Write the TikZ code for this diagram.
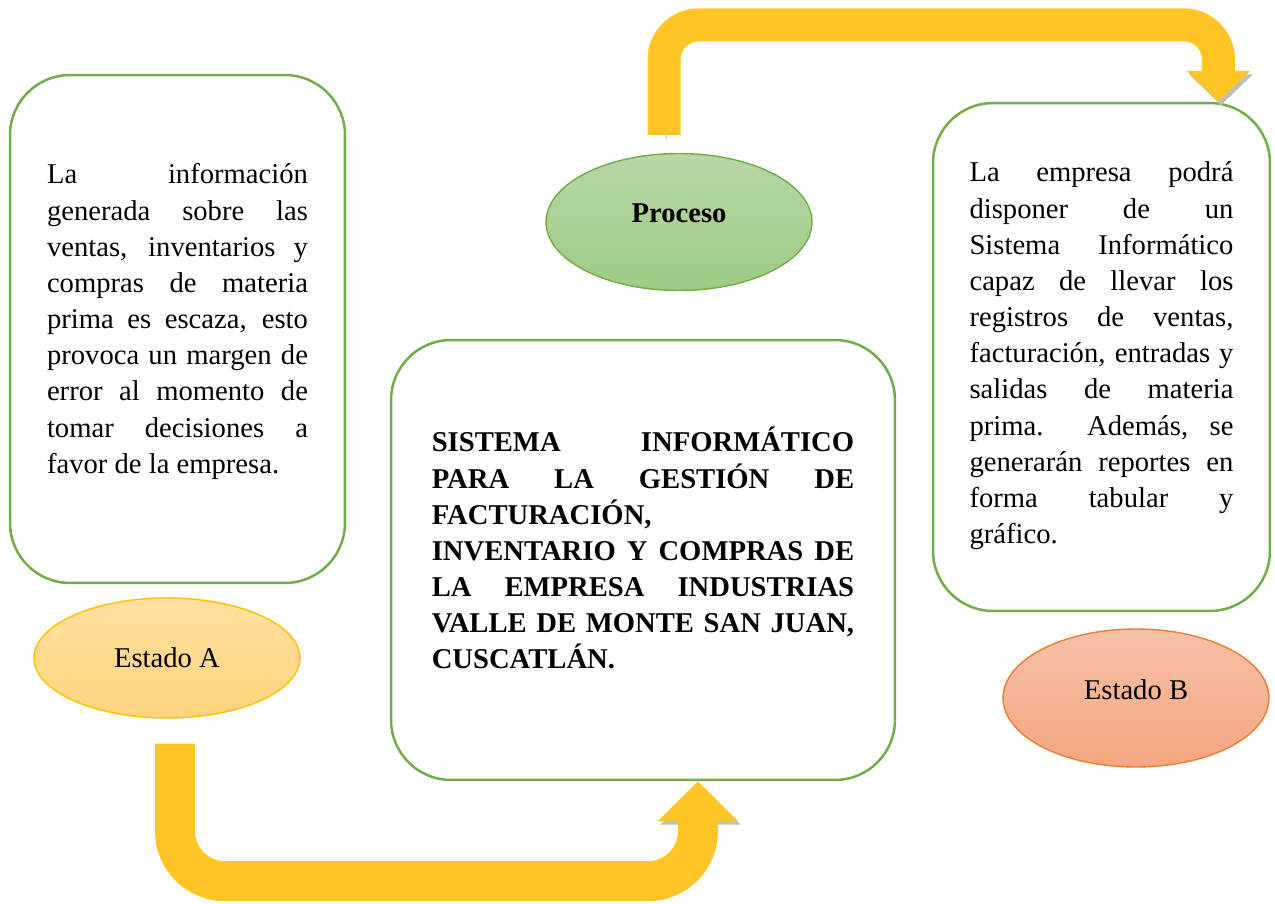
\documentclass[tikz,border=0pt]{standalone}
\usepackage{fontspec}
\setmainfont{Liberation Serif}
\usetikzlibrary{positioning,shapes,calc,arrows.meta}

\definecolor{verde}{RGB}{112,173,71}
\definecolor{oro}{RGB}{255,192,0}
\definecolor{naranja}{RGB}{237,125,49}
\definecolor{flechacolor}{RGB}{255,196,37}
\definecolor{Aarriba}{RGB}{255,224,160}
\definecolor{Aabajo}{RGB}{255,212,125}
\definecolor{Parriba}{RGB}{183,215,167}
\definecolor{Pabajo}{RGB}{158,203,132}
\definecolor{Barriba}{RGB}{246,193,168}
\definecolor{Babajo}{RGB}{244,166,128}

\tikzset{
  caja/.style={draw=verde, line width=1.4pt, rounded corners=1.2cm, inner sep=0pt},
  texto/.style={align=justify, inner sep=0pt, anchor=base, font=\fontsize{16.3}{20.6}\selectfont},
  elipse/.style={ellipse, line width=0.8pt, minimum width=5.32cm, inner sep=0pt,
    font=\fontsize{16.3}{20.6}\selectfont},
  flecha/.style={draw=flechacolor, rounded corners=1cm, line width=0.8cm,
    -{Triangle[width=1.56cm,length=0.8cm]},
    preaction={draw=black!25, transform canvas={shift={(0.05cm,-0.07cm)}}}}
}

\begin{document}
\begin{tikzpicture}[x=0.02cm,y=-0.02cm]
\useasboundingbox (0,0) rectangle (1275,903);

\node[caja, minimum width=6.7cm, minimum height=10.16cm] (boxA) at (177.5,329) {};
\node[caja, minimum width=10.08cm, minimum height=8.8cm] (boxP) at (643,560) {};
\node[caja, minimum width=6.74cm, minimum height=10.16cm] (boxB) at (1101.5,357) {};

\node[texto, text width=5.22cm] (textoA) at ($(boxA.north)+(0,110)$)
  {La información\linebreak generada sobre las\linebreak ventas, inventarios y\linebreak compras de materia\linebreak
   prima es escaza, esto\linebreak provoca un margen de\linebreak error al momento de\linebreak tomar decisiones a\linebreak
   favor de la empresa.};
\node[texto, text width=8.45cm, font=\fontsize{16.3}{20.6}\selectfont\bfseries] (textoP) at ($(boxP.north)+(0,113)$)
  {SISTEMA INFORMÁTICO\linebreak PARA LA GESTIÓN DE\linebreak FACTURACIÓN,\\ INVENTARIO Y COMPRAS DE\linebreak
   LA EMPRESA INDUSTRIAS\linebreak VALLE DE MONTE SAN JUAN,\linebreak CUSCATLÁN.};
\node[texto, text width=5.28cm] (textoB) at ($(boxB.north)+(0,80)$)
  {La empresa podrá\linebreak disponer de un\linebreak Sistema Informático\linebreak capaz de llevar los\linebreak
   registros de ventas,\linebreak facturación, entradas y\linebreak salidas de materia\linebreak prima. Además, se\linebreak
   generarán reportes en\linebreak forma tabular y\linebreak gráfico.};

\node[elipse, draw=oro, top color=Aarriba, bottom color=Aabajo, minimum height=2.4cm] (estadoA) at (167,658) {Estado A};
\node[elipse, draw=verde, top color=Parriba, bottom color=Pabajo, minimum height=2.74cm, text depth=0.36cm,
  font=\fontsize{16.3}{20.6}\selectfont\bfseries] (proceso) at (679,222) {Proceso};
\node[elipse, draw=naranja, top color=Barriba, bottom color=Babajo, minimum height=2.76cm, text depth=0.32cm] (estadoB) at (1136,698) {Estado B};

% flechas
\draw[flecha] ($(estadoA.south)+(8,25)$) |- ($(boxP.south)+(55,100)$) -- ($(boxP.south)+(55,0)$);
\draw[flecha, line width=0.66cm, rounded corners=0.7cm, -{Triangle[width=1.24cm,length=0.62cm]}]
  ($(proceso.north)+(-15,-18)$) |- ($(boxB.north)+(117,-77)$) -- ($(boxB.north)+(117,0)$);
\end{tikzpicture}
\end{document}
